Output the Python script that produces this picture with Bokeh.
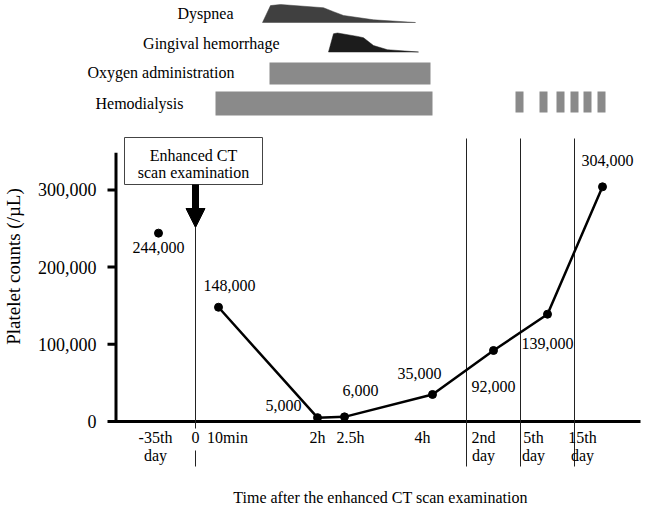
import math
from bokeh.plotting import figure
from bokeh.models import Range1d, Arrow, NormalHead
from bokeh.core.properties import value
from bokeh.embed import file_html
from bokeh.resources import INLINE

# ---------------- data ----------------
time_labels = ["-35th day", "10min", "2h", "2.5h", "4h", "2nd day", "5th day", "15th day"]
platelets = [244000, 148000, 5000, 6000, 35000, 92000, 139000, 304000]
# position of each sampling time on the (broken) time axis, axis units
time_x = [43, 103, 202, 229, 317, 378, 432, 487]

tick_line1 = ["-35th", "0", "10min", "2h", "2.5h", "4h", "2nd", "5th", "15th"]
tick_line2 = ["day", "", "", "", "", "", "day", "day", "day"]
tick_x = [40, 80, 112, 202, 235, 307, 368, 418, 467]
period_bounds = [351, 405, 459]
ct_time = 80
y_ticks = [0, 100000, 200000, 300000]
y_axis_top = 348000

# symptom / treatment timeline
dyspnea_x = [147, 155, 165, 208, 218, 228, 258, 300]
dyspnea_level = [0, 0.94, 1.0, 0.82, 0.6, 0.39, 0.15, 0]
gingival_x = [213, 218, 222, 242, 248, 258, 272, 303]
gingival_level = [0, 0.96, 1.0, 0.82, 0.75, 0.34, 0.12, 0]
oxygen_start, oxygen_end = 154, 315
dialysis_start = [100, 400, 424, 441, 455, 468, 482]
dialysis_end = [317, 408, 432, 449, 463, 476, 490]
row_names = ["Dyspnea", "Gingival hemorrhage", "Oxygen administration", "Hemodialysis"]

# ---------------- layout ----------------
FONT = value("Liberation Serif")
W, H = 646, 506
LEFT = 115                 # pixel column of the value axis
ZERO_PX = 421              # pixel row of value 0
PX_PER_VAL = 77.2 / 100000
y0 = -(H - ZERO_PX) / PX_PER_VAL
y1 = ZERO_PX / PX_PER_VAL

p = figure(width=W, height=H, x_range=Range1d(-LEFT, W - LEFT), y_range=Range1d(y0, y1),
           x_axis_location=None, y_axis_location=None, toolbar_location=None,
           output_backend="svg", min_border_left=0, min_border_right=0,
           min_border_top=0, min_border_bottom=0, outline_line_color=None)
p.extra_y_ranges = {"px": Range1d(start=H, end=0)}
p.grid.visible = False


def txt(x, y, s, size="16px", align="center", rng="px", **kw):
    if rng:
        kw["y_range_name"] = rng
    p.text(x=x, y=y, text=s, text_align=align, text_baseline="middle", text_font=FONT,
           text_font_size=size, text_color="black", **kw)


# ---------- timeline ----------
d_base, d_h = 22, 18
p.patch(dyspnea_x, [d_base - l * d_h for l in dyspnea_level], y_range_name="px",
        fill_color="#404040", line_color="#404040", line_width=0.5)
g_base, g_h = 51.5, 19
p.patch(gingival_x, [g_base - l * g_h for l in gingival_level], y_range_name="px",
        fill_color="#1c1c1c", line_color="#1c1c1c", line_width=0.5)
p.quad(left=[oxygen_start], right=[oxygen_end], top=[62], bottom=[84], y_range_name="px",
       fill_color="#8a8a8a", line_color=None)
k = len(dialysis_start)
p.quad(left=dialysis_start, right=dialysis_end, top=[91] * k, bottom=[115] + [112] * (k - 1),
       y_range_name="px", fill_color="#8a8a8a", line_color=None)
txt([118, 164, 119, 68], [13, 43, 72, 103], row_names, align="right")

# ---------- value axis ----------
p.segment(x0=[0.5], y0=[0], x1=[0.5], y1=[y_axis_top], line_width=3, line_color="black")
nt = len(y_ticks)
p.segment(x0=[-8] * nt, y0=y_ticks, x1=[0] * nt, y1=y_ticks, line_width=3, line_color="black")
txt([-19] * nt, y_ticks, [f"{v:,}" for v in y_ticks], size="18px", align="right", rng=None)
txt([-102], [266], ["Platelet counts (/\u00b5L)"], size="19px", angle=math.pi / 2)

# ---------- time axis ----------
p.segment(x0=[-7], y0=[0], x1=[525], y1=[0], line_width=3, line_color="black")
n = len(period_bounds)
p.segment(x0=period_bounds, y0=[138] * n, x1=period_bounds, y1=[466] * n,
          y_range_name="px", line_width=1, line_color="#222222")
# CT time line (interrupted by the "0" label)
p.segment(x0=[ct_time, ct_time], y0=[227, 450], x1=[ct_time, ct_time], y1=[428, 466],
          y_range_name="px", line_width=1, line_color="#222222")
m = len(tick_x)
txt(tick_x, [437] * m, tick_line1)
txt(tick_x, [455] * m, tick_line2)
txt([265], [497], ["Time after the enhanced CT scan examination"])

# ---------- data ----------
p.line(time_x[1:], platelets[1:], line_width=2.5, line_color="black")
p.scatter(time_x, platelets, size=8, fill_color="black", line_color="black")
dx = [0, 11, -34, 16, -13, 0, 0, 5]
dy = [14.5, -22, -12, -26, -21, 36, 29, -26]
txt(time_x, platelets, [f"{v:,}" for v in platelets], rng=None, x_offset=dx, y_offset=dy)

# ---------- CT box and arrow ----------
p.quad(left=[9], right=[147], top=[137], bottom=[184], y_range_name="px",
       fill_color="white", line_color="#444444", line_width=1)
txt([78, 78], [155, 172], ["Enhanced CT", "scan examination"])
p.add_layout(Arrow(x_start=ct_time, y_start=184, x_end=ct_time, y_end=227, y_range_name="px",
                   line_width=7, line_color="black",
                   end=NormalHead(size=19, fill_color="black", line_color="black", line_width=1)))

open("out.html", "w").write(file_html(p, INLINE))
